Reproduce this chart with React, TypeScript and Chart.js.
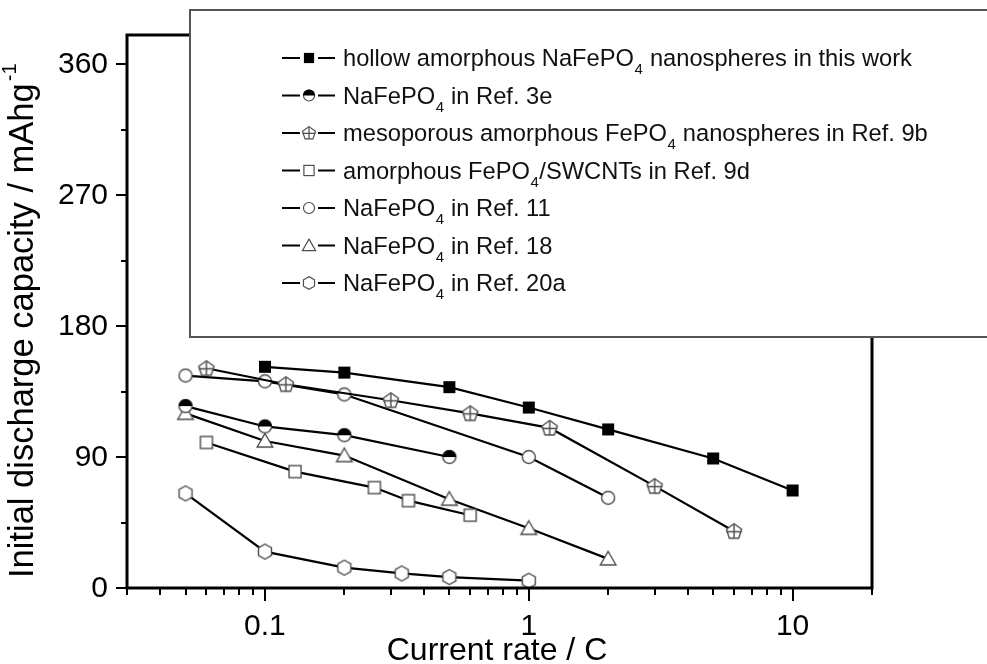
import React, { useEffect, useRef } from "react";
import { Chart, registerables } from "chart.js";

Chart.register(...registerables);

// ---------- axis settings ----------
const xMin = 0.03;
const xMax = 20;
const yMin = 0;
const yMax = 380;
const yTickValues = [0, 90, 180, 270, 360];
const yMinorTickValues = [45, 135, 225, 315];
const xMajorTickValues = [0.1, 1, 10];
const xTickLabels = ["0.1", "1", "10"];
const xMinorTickValues = [
  0.03, 0.04, 0.05, 0.06, 0.07, 0.08, 0.09,
  0.2, 0.3, 0.4, 0.5, 0.6, 0.7, 0.8, 0.9,
  2, 3, 4, 5, 6, 7, 8, 9, 20,
];
const xTitle = "Current rate / C";
const yTitle = "Initial discharge capacity / mAhg";
const yTitleSup = "-1";

// ---------- data ----------
const hollowRate = [0.1, 0.2, 0.5, 1, 2, 5, 10];
const hollowCap = [152, 148, 138, 124, 109, 89, 67];

const ref3eRate = [0.05, 0.1, 0.2, 0.5];
const ref3eCap = [125, 111, 105, 90];

const ref9bRate = [0.06, 0.12, 0.3, 0.6, 1.2, 3, 6];
const ref9bCap = [151, 140, 129, 120, 110, 70, 39];

const ref9dRate = [0.06, 0.13, 0.26, 0.35, 0.6];
const ref9dCap = [100, 80, 69, 60, 50];

const ref11Rate = [0.05, 0.1, 0.2, 1, 2];
const ref11Cap = [146, 142, 133, 90, 62];

const ref18Rate = [0.05, 0.1, 0.2, 0.5, 1, 2];
const ref18Cap = [120, 101, 91, 61, 41, 20];

const ref20aRate = [0.05, 0.1, 0.2, 0.33, 0.5, 1];
const ref20aCap = [65, 25, 14, 10, 7.5, 5];

// legend labels ("_4" marks a subscript 4)
const legendLabels = [
  "hollow amorphous NaFePO_4 nanospheres in this work",
  "NaFePO_4 in Ref. 3e",
  "mesoporous amorphous FePO_4 nanospheres in Ref. 9b",
  "amorphous FePO_4/SWCNTs in Ref. 9d",
  "NaFePO_4 in Ref. 11",
  "NaFePO_4 in Ref. 18",
  "NaFePO_4 in Ref. 20a",
];
const markerKinds = [
  "filledSquare",
  "halfCircle",
  "crossPentagon",
  "openSquare",
  "openCircle",
  "openTriangle",
  "openHexagon",
];
const seriesRates = [hollowRate, ref3eRate, ref9bRate, ref9dRate, ref11Rate, ref18Rate, ref20aRate];
const seriesCaps = [hollowCap, ref3eCap, ref9bCap, ref9dCap, ref11Cap, ref18Cap, ref20aCap];

const FONT = "'Liberation Sans', Arial, sans-serif";
const MARKER_STROKE = "#4d4d4d";

function polyPath(ctx: CanvasRenderingContext2D, cx: number, cy: number, r: number, n: number) {
  ctx.beginPath();
  for (let i = 0; i < n; i++) {
    const a = -Math.PI / 2 + (i * 2 * Math.PI) / n;
    const px = cx + r * Math.cos(a);
    const py = cy + r * Math.sin(a);
    if (i === 0) ctx.moveTo(px, py);
    else ctx.lineTo(px, py);
  }
  ctx.closePath();
}

function drawMarker(ctx: CanvasRenderingContext2D, kind: string, cx: number, cy: number, scale = 1) {
  ctx.save();
  ctx.translate(cx, cy);
  ctx.scale(scale, scale);
  ctx.lineWidth = 1.4;
  ctx.strokeStyle = MARKER_STROKE;
  ctx.fillStyle = "#fff";
  switch (kind) {
    case "filledSquare":
      ctx.fillStyle = "#000";
      ctx.fillRect(-6, -6, 12, 12);
      break;
    case "halfCircle": {
      const r = 6.5;
      ctx.beginPath();
      ctx.arc(0, 0, r, 0, Math.PI * 2);
      ctx.fill();
      ctx.stroke();
      ctx.beginPath();
      ctx.arc(0, 0, r + 0.6, Math.PI, Math.PI * 2);
      ctx.closePath();
      ctx.fillStyle = "#000";
      ctx.fill();
      break;
    }
    case "crossPentagon": {
      const r = 8;
      polyPath(ctx, 0, 0.5, r, 5);
      ctx.fill();
      ctx.stroke();
      ctx.beginPath();
      ctx.moveTo(0, 0.5 - r);
      ctx.lineTo(0, 0.5 + r * 0.81);
      ctx.moveTo(-r * 0.95, 0.5);
      ctx.lineTo(r * 0.95, 0.5);
      ctx.stroke();
      break;
    }
    case "openSquare":
      ctx.fillRect(-6, -6, 12, 12);
      ctx.strokeRect(-6, -6, 12, 12);
      break;
    case "openCircle":
      ctx.beginPath();
      ctx.arc(0, 0, 6.5, 0, Math.PI * 2);
      ctx.fill();
      ctx.stroke();
      break;
    case "openTriangle":
      polyPath(ctx, 0, 1.5, 9, 3);
      ctx.fill();
      ctx.stroke();
      break;
    case "openHexagon":
      polyPath(ctx, 0, 0, 7.5, 6);
      ctx.fill();
      ctx.stroke();
      break;
  }
  ctx.restore();
}

function makeMarkerCanvas(kind: string): HTMLCanvasElement {
  const c = document.createElement("canvas");
  c.width = 22;
  c.height = 22;
  const ctx = c.getContext("2d");
  if (ctx) drawMarker(ctx, kind, 11, 11);
  return c;
}

function drawRichText(ctx: CanvasRenderingContext2D, text: string, x: number, y: number, size: number) {
  const parts = text.split("_4");
  let cx = x;
  parts.forEach((p, i) => {
    ctx.font = `${size}px ${FONT}`;
    ctx.fillText(p, cx, y);
    cx += ctx.measureText(p).width;
    if (i < parts.length - 1) {
      ctx.font = `${Math.round(size * 0.62)}px ${FONT}`;
      ctx.fillText("4", cx + 0.5, y + 8);
      cx += ctx.measureText("4").width + 1;
    }
  });
}

const customAxesPlugin = {
  id: "customAxes",
  afterDraw(chart: any) {
    const ctx: CanvasRenderingContext2D = chart.ctx;
    const { left, right, top, bottom } = chart.chartArea;
    const xs = chart.scales.x;
    const ys = chart.scales.y;
    ctx.save();
    ctx.fillStyle = "#000";
    ctx.strokeStyle = "#000";

    // frame
    ctx.lineWidth = 3;
    ctx.strokeRect(left, top, right - left, bottom - top);

    // x ticks
    ctx.lineWidth = 2;
    ctx.beginPath();
    xMajorTickValues.forEach((v) => {
      const px = Math.round(xs.getPixelForValue(v));
      ctx.moveTo(px, bottom);
      ctx.lineTo(px, bottom + 13);
    });
    xMinorTickValues.forEach((v) => {
      const px = Math.round(xs.getPixelForValue(v));
      ctx.moveTo(px, bottom);
      ctx.lineTo(px, bottom + 7);
    });
    // y ticks
    yTickValues.forEach((v) => {
      const py = Math.round(ys.getPixelForValue(v));
      ctx.moveTo(left, py);
      ctx.lineTo(left - 11, py);
    });
    yMinorTickValues.forEach((v) => {
      const py = Math.round(ys.getPixelForValue(v));
      ctx.moveTo(left, py);
      ctx.lineTo(left - 6, py);
    });
    ctx.stroke();

    // tick labels
    ctx.font = `30px ${FONT}`;
    ctx.textAlign = "center";
    ctx.textBaseline = "alphabetic";
    xMajorTickValues.forEach((v, i) => {
      ctx.fillText(xTickLabels[i], xs.getPixelForValue(v), 635);
    });
    ctx.textAlign = "right";
    ctx.textBaseline = "middle";
    yTickValues.forEach((v) => {
      ctx.fillText(String(v), left - 19, ys.getPixelForValue(v) + 1);
    });

    // x title
    ctx.font = `32px ${FONT}`;
    ctx.textAlign = "center";
    ctx.textBaseline = "alphabetic";
    ctx.fillText(xTitle, 497, 660);

    // y title
    ctx.save();
    ctx.translate(33, 578);
    ctx.rotate(-Math.PI / 2);
    ctx.textAlign = "left";
    ctx.textBaseline = "alphabetic";
    ctx.font = `34.5px ${FONT}`;
    ctx.fillText(yTitle, 0, 0);
    const w = ctx.measureText(yTitle).width;
    ctx.font = `20px ${FONT}`;
    ctx.fillText(yTitleSup, w + 2, -17);
    ctx.restore();

    // legend box
    ctx.fillStyle = "#fff";
    ctx.fillRect(190, 10, 810, 327);
    ctx.strokeStyle = "#555";
    ctx.lineWidth = 2;
    ctx.strokeRect(190, 10, 810, 327);

    legendLabels.forEach((label, i) => {
      const cy = 58 + i * 37.5;
      ctx.strokeStyle = "#000";
      ctx.lineWidth = 2;
      ctx.beginPath();
      ctx.moveTo(282, cy);
      ctx.lineTo(300, cy);
      ctx.moveTo(318, cy);
      ctx.lineTo(335, cy);
      ctx.stroke();
      drawMarker(ctx, markerKinds[i], 309, cy, 0.85);
      ctx.fillStyle = "#111";
      ctx.textAlign = "left";
      ctx.textBaseline = "alphabetic";
      drawRichText(ctx, label, 343, cy + 8, 23.7);
    });

    ctx.restore();
  },
};

export default function App() {
  const canvasRef = useRef<HTMLCanvasElement | null>(null);

  useEffect(() => {
    if (!canvasRef.current) return;
    const datasets = legendLabels.map((label, i) => ({
      label: label.replace("_4", "4"),
      data: seriesRates[i].map((x, j) => ({ x, y: seriesCaps[i][j] })),
      borderColor: "#000",
      backgroundColor: "#000",
      borderWidth: 2.2,
      pointStyle: makeMarkerCanvas(markerKinds[i]),
      pointRadius: 7,
      fill: false,
      tension: 0,
    }));
    const chart = new Chart(canvasRef.current, {
      type: "line",
      data: { datasets },
      options: {
        animation: false,
        responsive: false,
        devicePixelRatio: 1,
        events: [],
        layout: { padding: { left: 127, top: 35, right: 115, bottom: 76 } },
        plugins: { legend: { display: false }, tooltip: { enabled: false } },
        scales: {
          x: { type: "logarithmic", min: xMin, max: xMax, display: false },
          y: { type: "linear", min: yMin, max: yMax, display: false },
        },
      },
      plugins: [customAxesPlugin],
    } as any);
    return () => chart.destroy();
  }, []);

  return (
    <div style={{ position: "absolute", left: 0, top: 0, width: 987, height: 664, background: "#fff" }}>
      <canvas ref={canvasRef} width={987} height={664} style={{ display: "block" }} />
    </div>
  );
}
